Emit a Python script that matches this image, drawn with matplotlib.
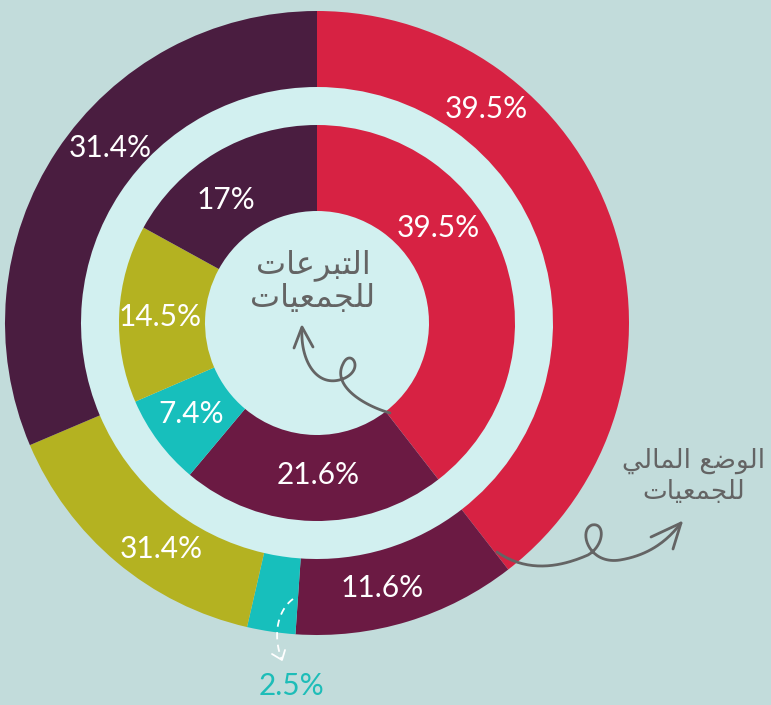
import numpy as np
import matplotlib
matplotlib.use("Agg")
from matplotlib import pyplot as plt
from matplotlib.patches import Circle

# ring values (outer = financial situation, inner = donations)
categories = ["red", "maroon", "teal", "olive", "purple"]
outer_values = [39.5, 11.6, 2.5, 15.0, 31.4]
outer_labels = ["39.5%", "11.6%", "2.5%", "31.4%", "31.4%"]
inner_values = [39.5, 21.6, 7.4, 14.5, 17.0]
inner_labels = ["39.5%", "21.6%", "7.4%", "14.5%", "17%"]

colours = ["#D72243", "#6B1A43", "#17BFBC", "#B4B221", "#4A1D40"]
bg = "#C2DCDB"
light = "#D2F0F0"
grey = "#646464"

# Arabic titles, written in presentation forms and visual order
title_center = ["\uFE95\uFE8E\uFECB\uFEAE\uFE92\uFE98\uFEDF\uFE8D",
                "\uFE95\uFE8E\uFEF4\uFECC\uFEE4\uFEA0\uFEE0\uFEDF"]
title_right = ["\uFEF2\uFEDF\uFE8E\uFEE4\uFEDF\uFE8D \uFECA\uFEBF\uFEEE\uFEDF\uFE8D",
               "\uFE95\uFE8E\uFEF4\uFECC\uFEE4\uFEA0\uFEE0\uFEDF"]


def bezier(p0, p1, p2, p3, n=40):
    t = np.linspace(0, 1, n)[:, None]
    p0, p1, p2, p3 = map(np.array, (p0, p1, p2, p3))
    return ((1 - t) ** 3) * p0 + 3 * ((1 - t) ** 2) * t * p1 + 3 * (1 - t) * t ** 2 * p2 + t ** 3 * p3


W, H = 771, 705
fig = plt.figure(figsize=(W / 100, H / 100), dpi=100)
fig.patch.set_facecolor(bg)
ax = fig.add_axes([0, 0, 1, 1])

cx, cy = 317, H - 323
R = 312

ax.add_patch(Circle((cx, cy), 236, color=light, zorder=0))

outer, _ = ax.pie(outer_values, radius=R, center=(cx, cy), startangle=90, counterclock=False,
                  colors=colours, wedgeprops=dict(width=R - 236, linewidth=0))
inner, _ = ax.pie(inner_values, radius=198, center=(cx, cy), startangle=90, counterclock=False,
                  colors=colours, wedgeprops=dict(width=198 - 112, linewidth=0))

# where along each wedge the label sits (0 = clockwise end, 1 = start)
outer_frac = [0.73, 0.425, 1.0, 0.6, 0.44]
inner_frac = [0.635, 0.52, 0.47, 0.51, 0.6]
outer_r = [273, 273, 364, 275, 271]
inner_r = [154, 152, 155, 157, 153]

pct_font = dict(family="Lato", fontsize=21.5, ha="center", va="center")
for w, lab, f, r in zip(outer, outer_labels, outer_frac, outer_r):
    a = np.deg2rad(w.theta1 + f * (w.theta2 - w.theta1))
    c = "#1DBDB8" if r > R else "white"
    ax.text(cx + r * np.cos(a), cy + r * np.sin(a), lab, color=c, **pct_font)
for w, lab, f, r in zip(inner, inner_labels, inner_frac, inner_r):
    a = np.deg2rad(w.theta1 + f * (w.theta2 - w.theta1))
    ax.text(cx + r * np.cos(a), cy + r * np.sin(a), lab, color="white", **pct_font)

ar_font = dict(family=["DejaVu Sans"], color=grey, ha="center", va="center")
ax.text(313, H - 265, title_center[0], fontsize=23, **ar_font)
ax.text(313, H - 298, title_center[1], fontsize=23, **ar_font)
ax.text(694, H - 461, title_right[0], fontsize=19, **ar_font)
ax.text(694, H - 492, title_right[1], fontsize=19, **ar_font)


def draw(points, **kw):
    pts = np.vstack(points)
    ax.plot(pts[:, 0], H - pts[:, 1], solid_capstyle="round", **kw)


# curly arrow in the middle
curve = [bezier((390, 413), (362, 405), (332, 385), (343, 364)),
         bezier((343, 364), (350, 348), (365, 368), (345, 378)),
         bezier((345, 378), (318, 390), (300, 362), (302, 328))]
draw(curve, color=grey, lw=2)
draw([np.array([(294, 348), (302, 327), (313, 347)])], color=grey, lw=2)

# arrow to the right-hand title
curve = [bezier((497, 552), (530, 575), (565, 565), (588, 555)),
         bezier((588, 555), (605, 545), (605, 522), (592, 525)),
         bezier((592, 525), (578, 530), (588, 565), (620, 560)),
         bezier((620, 560), (650, 555), (668, 540), (681, 523))]
draw(curve, color=grey, lw=2)
draw([np.array([(651, 537), (681, 523), (673, 549)])], color=grey, lw=2)

# dashed white arrow for the small slice
curve = [bezier((293, 599), (278, 610), (272, 635), (282, 660))]
draw(curve, color="white", lw=1.3, ls=(0, (4, 3)))
draw([np.array([(272, 654), (282, 660), (285, 650)])], color="white", lw=1.3)

ax.set_xlim(0, W)
ax.set_ylim(0, H)
ax.set_aspect("equal")
ax.axis("off")

fig.savefig("out.png", dpi=100, facecolor=bg)
